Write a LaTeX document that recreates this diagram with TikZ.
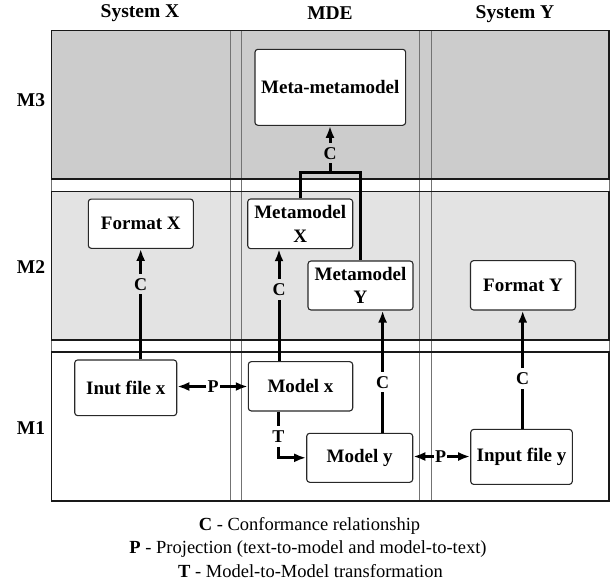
\documentclass[tikz,border=0pt]{standalone}
\usepackage{fontspec}
\setmainfont{Liberation Serif}
\usetikzlibrary{arrows.meta}
\definecolor{bandthree}{RGB}{204,204,204}
\definecolor{bandtwo}{RGB}{227,227,227}
\definecolor{rowrule}{RGB}{25,25,25}
\definecolor{colrule}{RGB}{115,115,115}
\definecolor{boxrule}{RGB}{40,40,40}
\newcommand{\boxfont}{\fontsize{19}{23.5}\selectfont\bfseries}
\newcommand{\headfont}{\fontsize{19.5}{23}\selectfont\bfseries}
\newcommand{\relfont}{\fontsize{18}{20}\selectfont\bfseries}
\newcommand{\legfont}{\fontsize{18.5}{22}\selectfont}
\tikzset{
  band/.style={draw=rowrule, line width=1.2pt},
  column/.style={draw=colrule, line width=0.9pt},
  box/.style={draw=boxrule, line width=1.1pt, rounded corners=3pt, fill=white,
    inner sep=0pt, align=center, font=\boxfont},
  head/.style={font=\headfont, inner sep=0pt},
  rel/.style={font=\relfont, inner sep=4pt, text height=12.5pt, text depth=0pt},
  prel/.style={font=\relfont, inner xsep=1pt, inner ysep=3pt},
  link/.style={draw=black, line width=3pt, line join=miter},
  tip/.style={link, -{Latex[length=12pt,width=9pt]}},
  legend/.style={font=\legfont, inner sep=0pt}
}
\begin{document}
\begin{tikzpicture}[x=1pt,y=-1pt]
\useasboundingbox (0,0) rectangle (610,587);

% level bands
\fill[bandthree] (51.7,30.7) rectangle (609,179);
\fill[bandtwo] (51.7,191.7) rectangle (609,340);
% column frames
\draw[column] (51.7,30.7) rectangle (230,501);
\draw[column] (241.3,30.7) rectangle (419.3,501);
\draw[column] (431,30.7) rectangle (609,501);
% level frames
\draw[band] (51.7,30.7) rectangle (609,179);
\draw[band] (51.7,191.7) rectangle (609,340);
\draw[band] (51.7,352) rectangle (609,501);

% column and level headings
\node[head] (hX) at (140,13.5) {System X};
\node[head] (hM) at (330,13.5) {MDE};
\node[head] (hY) at (515,14) {System Y};
\node[head] (l3) at (31,100) {M3};
\node[head] (l2) at (31,267) {M2};
\node[head] (l1) at (31,427.7) {M1};

% models
\node[box, minimum width=150.7pt, minimum height=76pt] (meta) at (330.3,87.3) {Meta-metamodel};
\node[box, minimum width=105pt, minimum height=49.3pt] (formatX) at (140.8,223.7) {Format X};
\node[box, minimum width=105pt, minimum height=49.7pt] (mmX) at (300.2,223.8) {Metamodel\\X};
\node[box, minimum width=105pt, minimum height=49pt] (mmY) at (360.5,285.5) {Metamodel\\Y};
\node[box, minimum width=105pt, minimum height=49.3pt] (formatY) at (523,285.3) {Format Y};
\node[box, minimum width=102pt, minimum height=55.7pt] (inX) at (125.7,387.8) {Inut file x};
\node[box, minimum width=104.4pt, minimum height=49.3pt] (modelX) at (300.5,386.3) {Model x};
\node[box, minimum width=106pt, minimum height=49pt] (modelY) at (359.7,457.8) {Model y};
\node[box, minimum width=101.6pt, minimum height=55pt] (inY) at (521.5,456.9) {Input file y};

% conformance links
\node[rel] (cM) at (330,153) {C};
\coordinate (brM) at (330,172.3);
\draw[link] (mmX.north) |- (brM) -| (mmY.north);
\draw[link] (brM) -- (cM);
\draw[tip] (cM) -- (cM |- meta.south);

\node[rel] (c1) at (140.7,284) {C};
\draw[link] (inX.north -| c1) -- (c1);
\draw[tip] (c1) -- (c1 |- formatX.south);

\node[rel] (c2) at (279,289.3) {C};
\draw[link] (modelX.north -| c2) -- (c2);
\draw[tip] (c2) -- (c2 |- mmX.south);

\node[rel] (c3) at (382.6,382) {C};
\draw[link] (modelY.north -| c3) -- (c3);
\draw[tip] (c3) -- (c3 |- mmY.south);

\node[rel] (c4) at (522.7,378.5) {C};
\draw[link] (inY.north -| c4) -- (c4);
\draw[tip] (c4) -- (c4 |- formatY.south);

% projections
\node[prel] (p1) at (213,386.5) {P};
\draw[tip] (p1) -- (p1 -| inX.east);
\draw[tip] (p1) -- (p1 -| modelX.west);

\node[prel] (p2) at (440.5,456.5) {P};
\draw[tip] (p2) -- (p2 -| modelY.east);
\draw[tip] (p2) -- (p2 -| inY.west);

% transformation
\node[rel] (t1) at (278.3,436.5) {T};
\draw[link] (modelX.south -| t1) -- (t1);
\draw[tip] (t1) |- (modelY.west);

% key
\node[legend] (kC) at (309.5,526) {\textbf{C} - Conformance relationship};
\node[legend] (kP) at (308,549) {\textbf{P} - Projection (text-to-model and model-to-text)};
\node[legend] (kT) at (310.5,571.5) {\textbf{T} - Model-to-Model transformation};
\end{tikzpicture}
\end{document}
